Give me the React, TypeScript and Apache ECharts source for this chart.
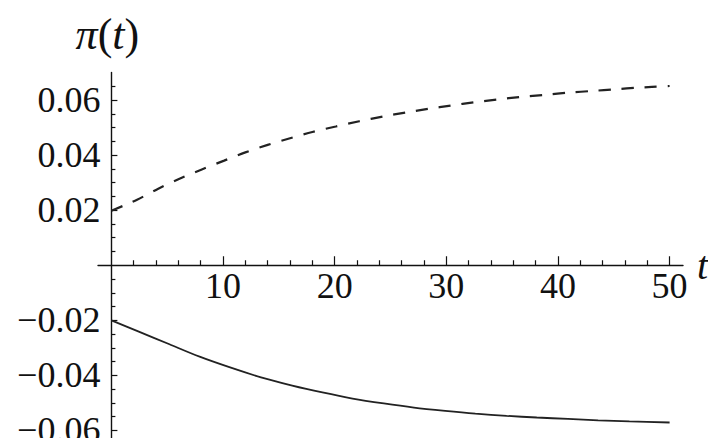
import React, { useEffect, useRef } from "react";
import * as echarts from "echarts";

// Dashed curve (upper) — t and π(t)
const dashedT = [0, 2.3, 4.2, 6.1, 8.1, 10.1, 12.0, 14.0, 16.0, 18.0, 20.1, 22.2, 24.3, 26.4, 28.4, 30.4, 32.5, 34.6, 36.6, 38.9, 41.0, 43.1, 45.1, 47.2, 50];
const dashedV = [0.0198, 0.0238, 0.0278, 0.0314, 0.0348, 0.038, 0.041, 0.0437, 0.0461, 0.0484, 0.0504, 0.0523, 0.054, 0.0555, 0.0568, 0.058, 0.0592, 0.0602, 0.0611, 0.0619, 0.0627, 0.0633, 0.0639, 0.0645, 0.0651];

// Solid curve (lower)
const solidT = [0, 2.4, 5.2, 7.9, 10.7, 13.4, 16.2, 18.9, 21.6, 24.4, 27.1, 29.9, 32.6, 35.4, 38.1, 40.9, 43.6, 46.4, 50];
const solidV = [-0.02, -0.024, -0.0287, -0.0332, -0.0372, -0.0407, -0.0437, -0.0462, -0.0484, -0.0502, -0.0517, -0.0529, -0.0539, -0.0547, -0.0553, -0.0558, -0.0563, -0.0567, -0.0571];

// Axis ticks
const xMajorTicks = [10, 20, 30, 40, 50];
const xMinorTicks = [2, 4, 6, 8, 12, 14, 16, 18, 22, 24, 26, 28, 32, 34, 36, 38, 42, 44, 46, 48];
const yMajorTicks = [-0.06, -0.04, -0.02, 0.02, 0.04, 0.06];
const yMinorTicks = [-0.065, -0.055, -0.05, -0.045, -0.035, -0.03, -0.025, -0.015, -0.01, -0.005, 0.005, 0.01, 0.015, 0.025, 0.03, 0.035, 0.045, 0.05, 0.055, 0.065];

const X_MIN = -1.2;
const X_MAX = 51.2;
const Y_MIN = -0.07;
const Y_MAX = 0.07;

const W = 708;
const H = 438;
const G_LEFT = 98;
const G_RIGHT = 25;
const G_TOP = 72.5;
const G_BOTTOM = -20;

const FONT = "'Liberation Serif', 'DejaVu Serif', serif";
const INK = "#111";

const fmtY = (v: number) => (v < 0 ? "\u2212" + Math.abs(v).toFixed(2) : v.toFixed(2));

export default function App() {
  const ref = useRef<HTMLDivElement>(null);

  useEffect(() => {
    if (!ref.current) return;
    const chart = echarts.init(ref.current, null, { renderer: "svg" });

    // Where the crossing axes sit, relative to the grid edges (labels of an
    // on-zero axis are anchored to the grid edge, so compensate via margin).
    const gridW = W - G_LEFT - G_RIGHT;
    const gridH = H - G_TOP - G_BOTTOM;
    const zeroY = G_TOP + (Y_MAX / (Y_MAX - Y_MIN)) * gridH;
    const zeroX = G_LEFT + (-X_MIN / (X_MAX - X_MIN)) * gridW;
    const xLabelShift = H - G_BOTTOM - zeroY; // grid bottom edge -> zero line
    const yLabelShift = zeroX - G_LEFT; // zero line -> grid left edge

    const lineStyle = { color: INK, width: 1.4 };
    const hiddenLine = { color: INK, width: 1.4, opacity: 0 };
    const option: any = {
      animation: false,
      backgroundColor: "#fff",
      grid: { left: G_LEFT, right: G_RIGHT, top: G_TOP, bottom: G_BOTTOM, outerBoundsMode: "none" },
      xAxis: [
        {
          type: "value",
          min: X_MIN,
          max: X_MAX,
          position: "bottom",
          axisLine: { show: true, onZero: true, onZeroAxisIndex: 0, lineStyle },
          axisTick: { show: true, inside: true, length: 5, customValues: xMinorTicks, lineStyle: { color: INK, width: 1.2 } },
          axisLabel: { show: false },
          splitLine: { show: false },
          name: "t",
          nameLocation: "end",
          nameGap: 14,
          nameTextStyle: { fontFamily: FONT, fontStyle: "italic", fontSize: 40, color: INK, verticalAlign: "middle", padding: [0, 0, 10, 0] },
        },
        {
          type: "value",
          min: X_MIN,
          max: X_MAX,
          position: "bottom",
          axisLine: { show: true, onZero: true, onZeroAxisIndex: 0, lineStyle: hiddenLine },
          axisTick: { show: true, inside: true, length: 9, customValues: xMajorTicks, lineStyle: { color: INK, width: 1.2 } },
          axisLabel: { show: true, customValues: xMajorTicks, fontFamily: FONT, fontSize: 36, color: INK, margin: 3 - xLabelShift },
          splitLine: { show: false },
        },
      ],
      yAxis: [
        {
          type: "value",
          min: Y_MIN,
          max: Y_MAX,
          position: "left",
          axisLine: { show: true, onZero: true, onZeroAxisIndex: 0, lineStyle },
          axisTick: { show: true, inside: true, length: 4, customValues: yMinorTicks, lineStyle: { color: INK, width: 1.2 } },
          axisLabel: { show: false },
          splitLine: { show: false },
          name: "{i|\u03C0}{p|(}{i|t}{p|)}",
          nameLocation: "end",
          nameGap: 16,
          nameTextStyle: {
            align: "center",
            verticalAlign: "bottom",
            padding: [0, 8, 0, 0],
            rich: {
              i: { fontFamily: FONT, fontStyle: "italic", fontSize: 44, color: INK },
              p: { fontFamily: FONT, fontSize: 44, color: INK },
            },
          },
        },
        {
          type: "value",
          min: Y_MIN,
          max: Y_MAX,
          position: "left",
          axisLine: { show: true, onZero: true, onZeroAxisIndex: 0, lineStyle: hiddenLine },
          axisTick: { show: true, inside: true, length: 6, customValues: yMajorTicks, lineStyle: { color: INK, width: 1.2 } },
          axisLabel: { show: true, customValues: yMajorTicks, fontFamily: FONT, fontSize: 36, color: INK, margin: 11 - yLabelShift, formatter: fmtY },
          splitLine: { show: false },
        },
      ],
      series: [
        {
          type: "line",
          xAxisIndex: 0,
          yAxisIndex: 0,
          data: dashedT.map((t, i) => [t, dashedV[i]]),
          showSymbol: false,
          symbol: "none",
          smooth: 0.3,
          lineStyle: { color: "#222", width: 2.2, type: [12, 11] },
        },
        {
          type: "line",
          xAxisIndex: 0,
          yAxisIndex: 0,
          data: solidT.map((t, i) => [t, solidV[i]]),
          showSymbol: false,
          symbol: "none",
          smooth: 0.3,
          lineStyle: { color: "#222", width: 1.8, type: "solid" },
        },
      ],
    };
    chart.setOption(option);
    return () => chart.dispose();
  }, []);

  return (
    <div style={{ position: "fixed", left: 0, top: 0, width: W, height: H, overflow: "hidden", background: "#fff" }}>
      <div ref={ref} style={{ width: W, height: H }} />
    </div>
  );
}
